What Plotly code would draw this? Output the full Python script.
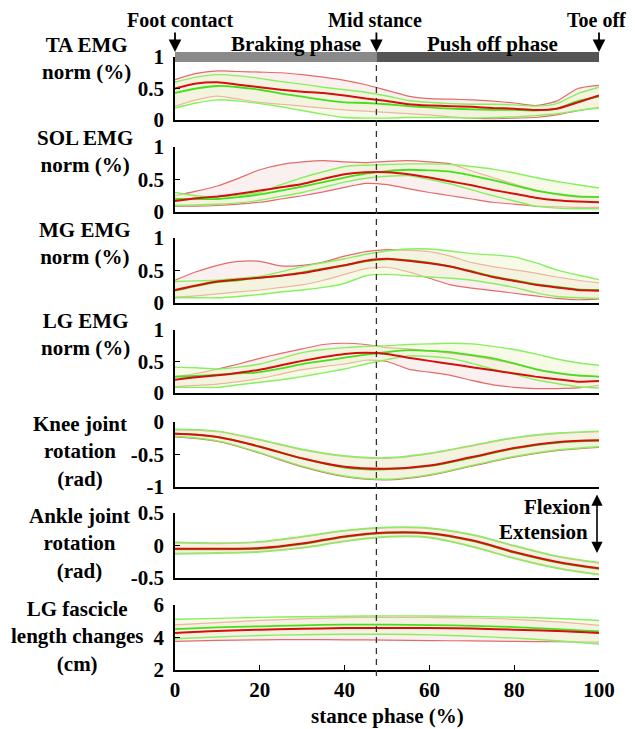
import plotly.graph_objects as go

# The page places the figure 8 px in from the window's top-left corner,
# so the figure is 8 px smaller each way and all layout pixels are shifted.
WIN_W, WIN_H = 635, 729
OFFSET = 8
W, H = WIN_W - OFFSET, WIN_H - OFFSET
MID_STANCE = 47.5

PCT21 = [0, 5, 10, 15, 20, 25, 30, 35, 40, 45, 50, 55, 60, 65, 70, 75, 80, 85, 90, 95, 100]
PCT11 = [0, 10, 20, 30, 40, 50, 60, 70, 80, 90, 100]

# ---- TA EMG ----
TA_R_UP = [.64, .74, .78, .77, .76, .75, .72, .68, .63, .56, .47, .38, .34, .33, .32, .30, .27, .23, .30, .50, .55]
TA_R_MEAN = [.50, .58, .60, .56, .52, .48, .45, .43, .39, .34, .30, .25, .23, .22, .21, .19, .18, .16, .18, .28, .39]
TA_R_LO = [.22, .32, .38, .33, .28, .25, .22, .19, .16, .14, .12, .10, .08, .05, .03, .02, .03, .04, .08, .15, .20]
TA_G_UP = [.60, .68, .72, .70, .66, .61, .57, .52, .48, .44, .38, .31, .28, .26, .25, .25, .24, .22, .26, .42, .52]
TA_G_MEAN = [.43, .50, .54, .52, .48, .42, .37, .32, .28, .27, .25, .22, .20, .18, .17, .16, .16, .15, .18, .30, .37]
TA_G_LO = [.19, .27, .32, .30, .26, .21, .15, .09, .04, .03, .03, .04, .04, .04, .03, .04, .05, .07, .10, .15, .19]

# ---- SOL EMG ----
SOL_R_UP = [.25, .32, .40, .52, .65, .73, .77, .79, .77, .76, .78, .79, .77, .74, .63, .53, .43, .34, .27, .23, .23]
SOL_R_MEAN = [.17, .21, .24, .28, .33, .38, .43, .51, .58, .61, .61, .58, .53, .47, .41, .34, .28, .22, .18, .16, .15]
SOL_R_LO = [.09, .09, .10, .12, .15, .20, .25, .31, .38, .44, .42, .36, .30, .25, .20, .15, .12, .09, .08, .07, .07]
SOL_G_UP = [.30, .25, .23, .26, .30, .42, .53, .62, .70, .72, .73, .74, .74, .73, .70, .66, .60, .53, .47, .42, .37]
SOL_G_MEAN = [.20, .20, .20, .23, .27, .33, .39, .46, .53, .59, .63, .65, .64, .62, .56, .49, .41, .33, .28, .24, .23]
SOL_G_LO = [.10, .11, .12, .14, .18, .24, .30, .38, .46, .52, .55, .56, .50, .43, .34, .25, .17, .09, .06, .05, .05]

# ---- MG EMG ----
MG_R_UP = [.35, .48, .58, .64, .64, .57, .58, .63, .72, .79, .82, .81, .79, .72, .62, .56, .51, .46, .40, .35, .31]
MG_R_MEAN = [.20, .27, .33, .36, .39, .42, .46, .52, .58, .65, .68, .65, .61, .56, .48, .40, .34, .28, .24, .20, .19]
MG_R_LO = [.09, .11, .14, .17, .20, .24, .28, .35, .44, .53, .55, .48, .38, .28, .23, .19, .15, .11, .07, .05, .06]
MG_G_UP = [.33, .34, .35, .38, .41, .48, .56, .62, .68, .75, .80, .83, .83, .80, .76, .74, .71, .62, .51, .43, .36]
MG_G_MEAN = [.19, .26, .32, .35, .39, .42, .47, .53, .58, .64, .67, .66, .62, .56, .49, .41, .35, .29, .25, .21, .20]
MG_G_LO = [.08, .08, .08, .10, .13, .17, .20, .24, .30, .42, .44, .42, .40, .38, .35, .30, .24, .16, .10, .08, .07]

# ---- LG EMG ----
LG_R_UP = [.26, .31, .38, .46, .55, .63, .70, .77, .79, .77, .72, .70, .67, .63, .59, .53, .46, .38, .31, .27, .26]
LG_R_MEAN = [.21, .25, .28, .32, .37, .44, .51, .57, .62, .64, .62, .56, .51, .46, .41, .36, .31, .26, .22, .18, .19]
LG_R_LO = [.10, .12, .14, .18, .23, .30, .37, .42, .46, .52, .50, .38, .33, .28, .20, .13, .09, .07, .07, .08, .12]
LG_G_UP = [.41, .40, .38, .41, .46, .55, .64, .69, .72, .74, .75, .77, .78, .79, .78, .74, .69, .62, .54, .48, .44]
LG_G_MEAN = [.26, .27, .29, .31, .33, .39, .46, .51, .56, .61, .65, .68, .67, .65, .60, .55, .47, .38, .32, .28, .26]
LG_G_LO = [.09, .09, .09, .13, .17, .21, .26, .32, .38, .46, .53, .59, .58, .55, .47, .38, .30, .21, .15, .10, .08]

# ---- Knee joint rotation (rad) ----
KN_R_UP = [-.12, -.15, -.28, -.43, -.53, -.56, -.49, -.37, -.25, -.18, -.15]
KN_R_MEAN = [-.18, -.23, -.38, -.56, -.69, -.72, -.67, -.54, -.40, -.31, -.28]
KN_R_LO = [-.23, -.30, -.48, -.69, -.84, -.89, -.82, -.68, -.54, -.44, -.39]
KN_G_UP = [-.11, -.14, -.27, -.42, -.52, -.55, -.48, -.36, -.24, -.17, -.14]
KN_G_MEAN = [-.18, -.23, -.38, -.56, -.70, -.73, -.68, -.55, -.41, -.32, -.29]
KN_G_LO = [-.22, -.29, -.47, -.68, -.83, -.88, -.81, -.67, -.53, -.43, -.38]

# ---- Ankle joint rotation (rad) ----
AN_R_UP = [.04, .03, .05, .13, .22, .27, .26, .16, -.01, -.17, -.27]
AN_R_MEAN = [-.05, -.05, -.04, .03, .14, .20, .19, .08, -.10, -.25, -.35]
AN_R_LO = [-.12, -.11, -.09, -.03, .07, .14, .13, -.01, -.19, -.34, -.44]
AN_G_UP = [.05, .04, .06, .14, .23, .28, .27, .17, .00, -.16, -.26]
AN_G_MEAN = [-.06, -.06, -.05, .02, .13, .19, .18, .07, -.11, -.26, -.36]
AN_G_LO = [-.13, -.12, -.10, -.04, .06, .13, .12, -.02, -.20, -.35, -.45]

# ---- LG fascicle length (cm) ----
FA_R_UP = [4.78, 4.92, 5.05, 5.15, 5.22, 5.24, 5.23, 5.20, 5.12, 4.96, 4.75]
FA_R_MEAN = [4.28, 4.40, 4.48, 4.54, 4.58, 4.59, 4.58, 4.55, 4.48, 4.40, 4.28]
FA_R_LO = [3.76, 3.82, 3.86, 3.87, 3.86, 3.84, 3.81, 3.79, 3.76, 3.74, 3.72]
FA_G_UP = [5.12, 5.18, 5.24, 5.28, 5.31, 5.33, 5.32, 5.29, 5.25, 5.17, 5.05]
FA_G_MEAN = [4.52, 4.62, 4.69, 4.75, 4.79, 4.79, 4.76, 4.72, 4.64, 4.52, 4.38]
FA_G_LO = [3.92, 4.03, 4.12, 4.17, 4.20, 4.20, 4.16, 4.08, 3.96, 3.80, 3.60]

PANEL_TITLES = ["TA EMG<br>norm (%)", "SOL EMG<br>norm (%)", "MG EMG<br>norm (%)",
                "LG EMG<br>norm (%)", "Knee joint<br>rotation<br>(rad)",
                "Ankle joint<br>rotation<br>(rad)", "LG fascicle<br>length changes<br>(cm)"]
Y_RANGES = [[0, 1], [0, 1], [0, 1], [0, 1], [-1, 0], [-0.5, 0.5], [2, 6]]
Y_TICKVALS = [[0, 0.5, 1]] * 4 + [[-1, -0.5, 0], [-0.5, 0, 0.5], [2, 4, 6]]
Y_TICKTEXT = [["0", "0.5", "1"]] * 4 + [["-1", "-0.5", "0"], ["-0.5", "0", "0.5"], ["2", "4", "6"]]
X_TICKVALS = [0, 20, 40, 60, 80, 100]
X_TICKTEXT = ["0", "20", "40", "60", "80", "100"]

PANELS = [
    (PCT21, TA_R_UP, TA_R_MEAN, TA_R_LO, TA_G_UP, TA_G_MEAN, TA_G_LO),
    (PCT21, SOL_R_UP, SOL_R_MEAN, SOL_R_LO, SOL_G_UP, SOL_G_MEAN, SOL_G_LO),
    (PCT21, MG_R_UP, MG_R_MEAN, MG_R_LO, MG_G_UP, MG_G_MEAN, MG_G_LO),
    (PCT21, LG_R_UP, LG_R_MEAN, LG_R_LO, LG_G_UP, LG_G_MEAN, LG_G_LO),
    (PCT11, KN_R_UP, KN_R_MEAN, KN_R_LO, KN_G_UP, KN_G_MEAN, KN_G_LO),
    (PCT11, AN_R_UP, AN_R_MEAN, AN_R_LO, AN_G_UP, AN_G_MEAN, AN_G_LO),
    (PCT11, FA_R_UP, FA_R_MEAN, FA_R_LO, FA_G_UP, FA_G_MEAN, FA_G_LO),
]

# layout geometry (window pixels)
PANEL_PX = [(57, 120), (147, 212), (238, 303), (330, 393), (422, 487), (513, 578), (605, 670)]
TITLE_Y_PX = [59, 151, 243, 334, 452, 543, 636]
TITLE_X_PX = [86, 85, 85, 85, 80, 79, 77]
X_LEFT, X_RIGHT = 175, 599


def py(p):
    return 1 - (p - OFFSET) / H


def px(p):
    return (p - OFFSET) / W


FONT = "Liberation Serif, Times New Roman, serif"
RED_MEAN, RED_BOUND = "#d40f0f", "#e36b6b"
GRN_MEAN, GRN_BOUND = "#45e01c", "#86f060"
RED_FILL = "rgba(240,200,200,0.28)"
GRN_FILL = "rgba(238,246,210,0.55)"
TICK_SIZE = 21
TITLE_SIZE = 21

fig = go.Figure()
for i, (xs, rup, rmean, rlo, gup, gmean, glo) in enumerate(PANELS):
    n = "" if i == 0 else str(i + 1)
    xa, ya = "x" + n, "y" + n
    sm = 0.6 if i < 4 else 1.0
    common = dict(x=xs, xaxis=xa, yaxis=ya, mode="lines", showlegend=False, hoverinfo="skip")
    fig.add_trace(go.Scatter(y=rlo, line=dict(color=RED_BOUND, width=1.2, shape="spline", smoothing=sm), **common))
    fig.add_trace(go.Scatter(y=rup, fill="tonexty", fillcolor=RED_FILL,
                             line=dict(color=RED_BOUND, width=1.2, shape="spline", smoothing=sm), **common))
    fig.add_trace(go.Scatter(y=glo, line=dict(color=GRN_BOUND, width=1.4, shape="spline", smoothing=sm), **common))
    fig.add_trace(go.Scatter(y=gup, fill="tonexty", fillcolor=GRN_FILL,
                             line=dict(color=GRN_BOUND, width=1.4, shape="spline", smoothing=sm), **common))
    fig.add_trace(go.Scatter(y=gmean, line=dict(color=GRN_MEAN, width=1.8, shape="spline", smoothing=sm), **common))
    fig.add_trace(go.Scatter(y=rmean, line=dict(color=RED_MEAN, width=2.0, shape="spline", smoothing=sm), **common))

    top, bot = PANEL_PX[i]
    last = i == len(PANELS) - 1
    fig.layout["xaxis" + n] = dict(
        domain=[px(X_LEFT), px(X_RIGHT)], range=[0, 100], anchor=ya, automargin=False,
        showline=True, linecolor="black", linewidth=1.5, mirror=False,
        showgrid=False, zeroline=False,
        ticks="inside" if last else "", ticklen=5, tickcolor="black",
        tickvals=X_TICKVALS, ticktext=X_TICKTEXT, showticklabels=last,
        tickfont=dict(family=FONT, size=TICK_SIZE, color="black", weight="bold"),
    )
    fig.layout["yaxis" + n] = dict(
        domain=[py(bot), py(top)], range=Y_RANGES[i], anchor=xa, automargin=False,
        showline=True, linecolor="black", linewidth=1.5, mirror=False,
        showgrid=False, zeroline=False,
        ticks="inside", ticklen=5, tickcolor="black",
        tickvals=Y_TICKVALS[i], ticktext=Y_TICKTEXT[i], ticklabelstandoff=5,
        tickfont=dict(family=FONT, size=TICK_SIZE, color="black", weight="bold"),
    )

shapes = [
    dict(type="rect", xref="x", yref="paper", x0=0, x1=MID_STANCE, y0=py(62), y1=py(52),
         fillcolor="#8a8a8a", line=dict(width=0), layer="above"),
    dict(type="rect", xref="x", yref="paper", x0=MID_STANCE, x1=100, y0=py(62), y1=py(52),
         fillcolor="#555555", line=dict(width=0), layer="above"),
    dict(type="line", xref="x7", yref="paper", x0=MID_STANCE, x1=MID_STANCE, y0=py(676), y1=py(62),
         line=dict(color="#333333", width=1.3, dash="6px,5px"), layer="above"),
]
fig.update_layout(shapes=shapes)

ann = []
for t, ty, tx in zip(PANEL_TITLES, TITLE_Y_PX, TITLE_X_PX):
    ann.append(dict(text="<b>" + t + "</b>", xref="paper", yref="paper", x=px(tx), y=py(ty),
                    xanchor="center", yanchor="middle", align="center", showarrow=False,
                    font=dict(family=FONT, size=TITLE_SIZE, color="black")))

TOP_LABELS = [("Foot contact", 180, 0), ("Mid stance", 375, MID_STANCE), ("Toe off", 596, 100)]
for txt, cx, xv in TOP_LABELS:
    ann.append(dict(text="<b>" + txt + "</b>", xref="paper", yref="paper", x=px(cx), y=1,
                    xanchor="center", yanchor="top", showarrow=False, borderpad=0,
                    font=dict(family=FONT, size=20, color="black")))
    ann.append(dict(text="", xref="x", yref="paper", x=xv, y=py(52), ax=0, ay=-21,
                    showarrow=True, arrowhead=2, arrowsize=1.4, arrowwidth=1.8, arrowcolor="black"))

for txt, cx in [("Braking phase", 296), ("Push off phase", 492)]:
    ann.append(dict(text="<b>" + txt + "</b>", xref="paper", yref="paper", x=px(cx), y=py(44),
                    xanchor="center", yanchor="middle", showarrow=False,
                    font=dict(family=FONT, size=21, color="black")))

for txt, ty, lx in [("Flexion", 507, 522), ("Extension", 532, 497)]:
    ann.append(dict(text="<b>" + txt + "</b>", xref="paper", yref="paper", x=px(lx),
                    y=py(ty), xanchor="left", yanchor="middle", showarrow=False,
                    font=dict(family=FONT, size=21, color="black")))
ann.append(dict(text="", xref="paper", yref="paper", x=px(597), y=py(553), ax=0, ay=-60,
                showarrow=True, arrowhead=2, startarrowhead=2, arrowside="end+start",
                arrowsize=1.4, startarrowsize=1.4, arrowwidth=1.6, arrowcolor="black"))

ann.append(dict(text="<b>stance phase (%)</b>", xref="paper", yref="paper", x=px(387), y=py(716),
                xanchor="center", yanchor="middle", showarrow=False,
                font=dict(family=FONT, size=21, color="black")))

fig.update_layout(
    annotations=ann, width=W, height=H, autosize=False,
    margin=dict(l=0, r=0, t=0, b=0, autoexpand=False),
    paper_bgcolor="white", plot_bgcolor="white",
    font=dict(family=FONT, color="black"),
)
fig.write_html("out.html")
